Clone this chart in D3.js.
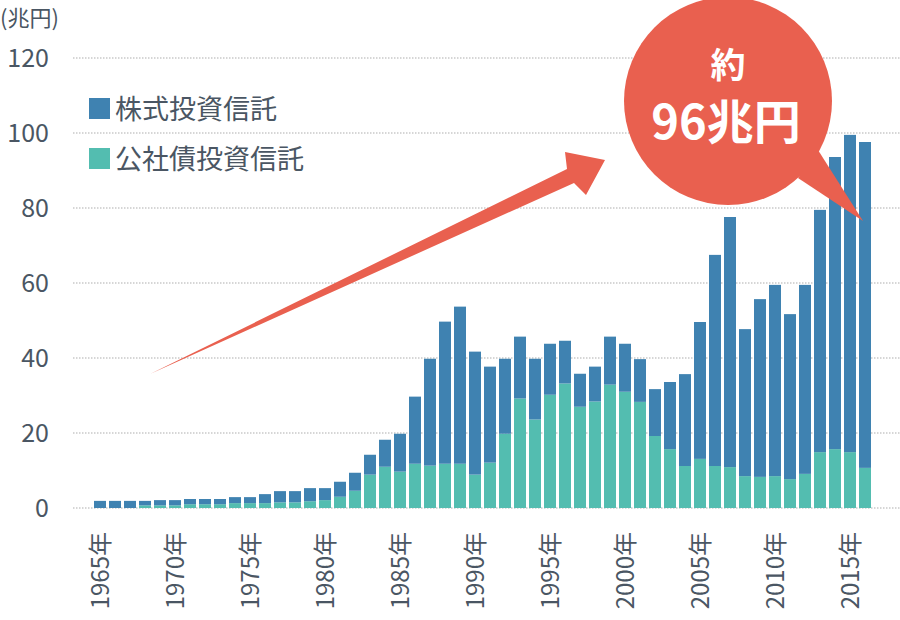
<!DOCTYPE html>
<html>
<head>
<meta charset="utf-8">
<script src="https://cdn.jsdelivr.net/npm/d3@7"></script>
<style>
  body { margin: 0; background: white; }
  svg { display: block; font-family: "Noto Sans CJK JP", "Noto Sans", sans-serif; }
</style>
</head>
<body>
<svg id="chart"></svg>
<script>
var years = [1965,1966,1967,1968,1969,1970,1971,1972,1973,1974,1975,1976,1977,1978,1979,
             1980,1981,1982,1983,1984,1985,1986,1987,1988,1989,1990,1991,1992,1993,1994,
             1995,1996,1997,1998,1999,2000,2001,2002,2003,2004,2005,2006,2007,2008,2009,
             2010,2011,2012,2013,2014,2015,2016];

// 公社債投資信託 (兆円)
var bondValues = [0,0,0,0.7,0.7,0.7,1.0,1.0,1.0,1.3,1.3,1.3,1.5,1.5,1.8,
                  2.1,3.0,4.6,8.9,11.0,9.7,11.8,11.3,11.8,11.8,8.9,12.1,19.8,29.2,23.6,
                  30.2,33.2,27.0,28.4,32.9,31.0,28.3,19.2,15.7,11.2,13.1,11.2,10.9,8.5,8.3,
                  8.5,7.7,9.1,14.9,15.7,14.9,10.7];

// 株式投資信託 (兆円)
var stockValues = [1.9,1.9,1.9,1.2,1.4,1.4,1.4,1.4,1.4,1.6,1.6,2.4,3.0,3.0,3.5,
                   3.2,4.0,4.8,5.3,7.2,10.1,17.9,28.5,37.9,41.9,32.8,25.6,20.0,16.5,16.2,
                   13.6,11.4,8.8,9.3,12.8,12.8,11.4,12.5,17.9,24.5,36.5,56.3,66.7,39.2,47.4,
                   51.0,44.0,50.4,64.6,77.9,84.6,86.9];

var yTicks = [0,20,40,60,80,100,120];
var xTickYears = [1965,1970,1975,1980,1985,1990,1995,2000,2005,2010,2015];
var seriesNames = ["公社債投資信託","株式投資信託"];
var unitLabel = "(兆円)";

var colors = {stock:"#3f82b1", bond:"#53bdb0", callout:"#e9604f", text:"#4a5663", grid:"#c9c9c9"};

var width = 900, height = 620;
var svg = d3.select("#chart").attr("width", width).attr("height", height);

var rows = years.map(function(y, i){
  return {year:y, bond:bondValues[i], stock:stockValues[i]};
});

var x = d3.scaleBand().domain(years).range([92.5, 872.5]).paddingInner(0.2).paddingOuter(0.1);
var y = d3.scaleLinear().domain([0,120]).range([508, 58]);

// grid lines
svg.append("g").selectAll("line")
  .data(yTicks)
  .enter().append("line")
    .attr("x1", 73).attr("x2", width)
    .attr("y1", d=>y(d)).attr("y2", d=>y(d))
    .attr("stroke", colors.grid)
    .attr("stroke-width", 1.5)
    .attr("stroke-dasharray", "1.5,1.5");

// y labels
svg.append("g").selectAll("text")
  .data(yTicks)
  .enter().append("text")
    .attr("x", 49).attr("y", d=>y(d))
    .attr("dy", "0.36em")
    .attr("text-anchor", "end")
    .attr("font-size", 25)
    .attr("fill", colors.text)
    .text(d=>d);

svg.append("text")
  .attr("x", 0).attr("y", 26)
  .attr("font-size", 22)
  .attr("fill", colors.text)
  .text(unitLabel);

// stacked bars
var stack = d3.stack().keys(["bond","stock"]);
var layers = stack(rows);
var layerColor = {bond:colors.bond, stock:colors.stock};

svg.append("g").selectAll("g")
  .data(layers)
  .enter().append("g")
    .attr("fill", d=>layerColor[d.key])
  .selectAll("rect")
  .data(d=>d)
  .enter().append("rect")
    .attr("x", d=>x(d.data.year))
    .attr("width", x.bandwidth())
    .attr("y", d=>y(d[1]))
    .attr("height", d=>y(d[0]) - y(d[1]));

// x labels
svg.append("g").selectAll("text")
  .data(xTickYears)
  .enter().append("text")
    .attr("transform", d=>"translate(" + (x(d) + x.bandwidth()/2) + ",532) rotate(-90)")
    .attr("dy", "0.36em")
    .attr("text-anchor", "end")
    .attr("font-size", 24)
    .attr("fill", colors.text)
    .text(d=>d + "年");

// legend
var legendItems = [{name:seriesNames[1], color:colors.stock}, {name:seriesNames[0], color:colors.bond}];
var legend = svg.append("g").selectAll("g")
  .data(legendItems)
  .enter().append("g")
    .attr("transform", (d,i)=>"translate(89," + (98 + i*50) + ")");
legend.append("rect").attr("width", 21).attr("height", 21).attr("fill", d=>d.color);
legend.append("text")
  .attr("x", 26).attr("y", 11).attr("dy", "0.36em")
  .attr("font-size", 27)
  .attr("fill", colors.text)
  .text(d=>d.name);

// growth arrow
svg.append("path")
  .attr("d", "M150,374 L567,169 L565,152 L605,160 L586,195 L574,183 Z")
  .attr("fill", colors.callout);

// callout bubble
var bubble = svg.append("g");
bubble.append("circle").attr("cx", 728).attr("cy", 101).attr("r", 104).attr("fill", colors.callout);
bubble.append("path").attr("d", "M818,150 L863,221 L798,178 Z").attr("fill", colors.callout);
bubble.append("text")
  .attr("x", 728).attr("y", 78)
  .attr("text-anchor", "middle")
  .attr("font-size", 35).attr("font-weight", "bold")
  .attr("fill", "white")
  .text("約");
bubble.append("text")
  .attr("x", 726).attr("y", 139)
  .attr("text-anchor", "middle")
  .attr("font-size", 47).attr("font-weight", "bold")
  .attr("fill", "white")
  .text("96兆円");
</script>
</body>
</html>
